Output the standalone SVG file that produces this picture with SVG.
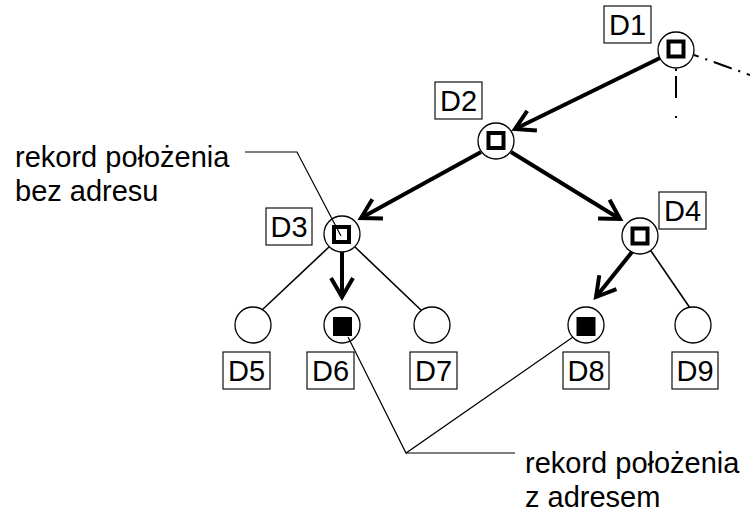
<svg xmlns="http://www.w3.org/2000/svg" width="750" height="515" viewBox="0 0 750 515">
  <style>
    .node circle { fill: #fff; stroke: #000; stroke-width: 1.3; }
    .hollow { fill: none; stroke: #000; stroke-width: 4; }
    .solid { fill: #000; stroke: none; }
    .tag rect { fill: #fff; stroke: #111; stroke-width: 1.2; }
    text { font-family: "Liberation Sans", Arial, sans-serif; font-size: 29px; fill: #000; }
    .tag text { text-anchor: middle; }
    .thick { stroke: #000; stroke-width: 4; fill: none; marker-end: url(#vhead); }
    .thin { stroke: #000; stroke-width: 1.6; fill: none; }
    .lead { stroke: #000; stroke-width: 1.2; fill: none; }
    .dashdot { stroke: #000; stroke-width: 2; fill: none; }
  </style>
  <defs>
    <marker id="vhead" markerUnits="userSpaceOnUse" markerWidth="30" markerHeight="30" viewBox="-24 -15 30 30" refX="0" refY="0" orient="auto">
      <path d="M-19,-11 L0,0 L-19,11" fill="none" stroke="#000" stroke-width="4" stroke-linejoin="miter"/>
    </marker>
  </defs>

  <!-- connectors -->
  <g id="connectors">
    <line class="thick" x1="660" y1="58" x2="515" y2="129"/>
    <line class="thick" x1="481" y1="152" x2="361" y2="218"/>
    <line class="thick" x1="511" y1="152" x2="620" y2="219"/>
    <line class="thick" x1="342" y1="252" x2="342" y2="297"/>
    <line class="thick" x1="632" y1="252" x2="596" y2="297"/>
    <line class="thin" x1="329" y1="247" x2="262" y2="310"/>
    <line class="thin" x1="355" y1="247" x2="422" y2="311"/>
    <line class="thin" x1="651" y1="251" x2="690" y2="308"/>
    <!-- continuation of the tree beyond D1 -->
    <line class="dashdot" x1="676" y1="69" x2="676" y2="119" stroke-dasharray="2 5 22 18 2 40"/>
    <line class="dashdot" x1="694" y1="55" x2="750" y2="75" stroke-dasharray="19 7 2 7" stroke-dashoffset="14"/>
  </g>

  <!-- nodes -->
  <g id="D1" class="node">
    <circle cx="676" cy="50" r="18"/>
    <rect class="hollow" x="668.5" y="41.5" width="15" height="15"/>
  </g>
  <g id="D2" class="node">
    <circle cx="496" cy="141" r="18"/>
    <rect class="hollow" x="488.5" y="133" width="15" height="15"/>
  </g>
  <g id="D3" class="node">
    <circle cx="342" cy="234" r="18"/>
    <rect class="hollow" x="334" y="227" width="15" height="15"/>
  </g>
  <g id="D4" class="node">
    <circle cx="640" cy="236" r="18"/>
    <rect class="hollow" x="632.5" y="228.5" width="15" height="15"/>
  </g>
  <g id="D5" class="node">
    <circle cx="253" cy="325" r="18"/>
  </g>
  <g id="D6" class="node">
    <circle cx="342" cy="325" r="18"/>
    <rect class="solid" x="333" y="317" width="19" height="19"/>
  </g>
  <g id="D7" class="node">
    <circle cx="432" cy="325" r="18"/>
  </g>
  <g id="D8" class="node">
    <circle cx="586" cy="325" r="18"/>
    <rect class="solid" x="576.5" y="317" width="19" height="19"/>
  </g>
  <g id="D9" class="node">
    <circle cx="693" cy="325" r="18"/>
  </g>

  <!-- node labels -->
  <g id="labels">
    <g class="tag"><rect x="604" y="6" width="47" height="37"/><text x="627.5" y="35">D1</text></g>
    <g class="tag"><rect x="435" y="82" width="47" height="37"/><text x="458.5" y="111">D2</text></g>
    <g class="tag"><rect x="266" y="208" width="46" height="37"/><text x="289" y="237">D3</text></g>
    <g class="tag"><rect x="659" y="192" width="47" height="37"/><text x="682.5" y="221">D4</text></g>
    <g class="tag"><rect x="223" y="352" width="47" height="37"/><text x="246.5" y="381">D5</text></g>
    <g class="tag"><rect x="307" y="352" width="47" height="37"/><text x="330.5" y="381">D6</text></g>
    <g class="tag"><rect x="410" y="352" width="47" height="37"/><text x="433.5" y="381">D7</text></g>
    <g class="tag"><rect x="563" y="352" width="46" height="37"/><text x="586" y="381">D8</text></g>
    <g class="tag"><rect x="672" y="352" width="46" height="37"/><text x="695" y="381">D9</text></g>
  </g>

  <!-- callouts -->
  <g id="callout-no-address">
    <polyline class="lead" points="245,152 297,152 341,236"/>
    <text x="15" y="167">rekord położenia</text>
    <text x="15" y="201">bez adresu</text>
  </g>
  <g id="callout-with-address">
    <polyline class="lead" points="348,337 406,453 573,337"/>
    <line class="lead" x1="406" y1="453" x2="515" y2="453"/>
    <text x="525" y="473">rekord położenia</text>
    <text x="525" y="507">z adresem</text>
  </g>
</svg>
